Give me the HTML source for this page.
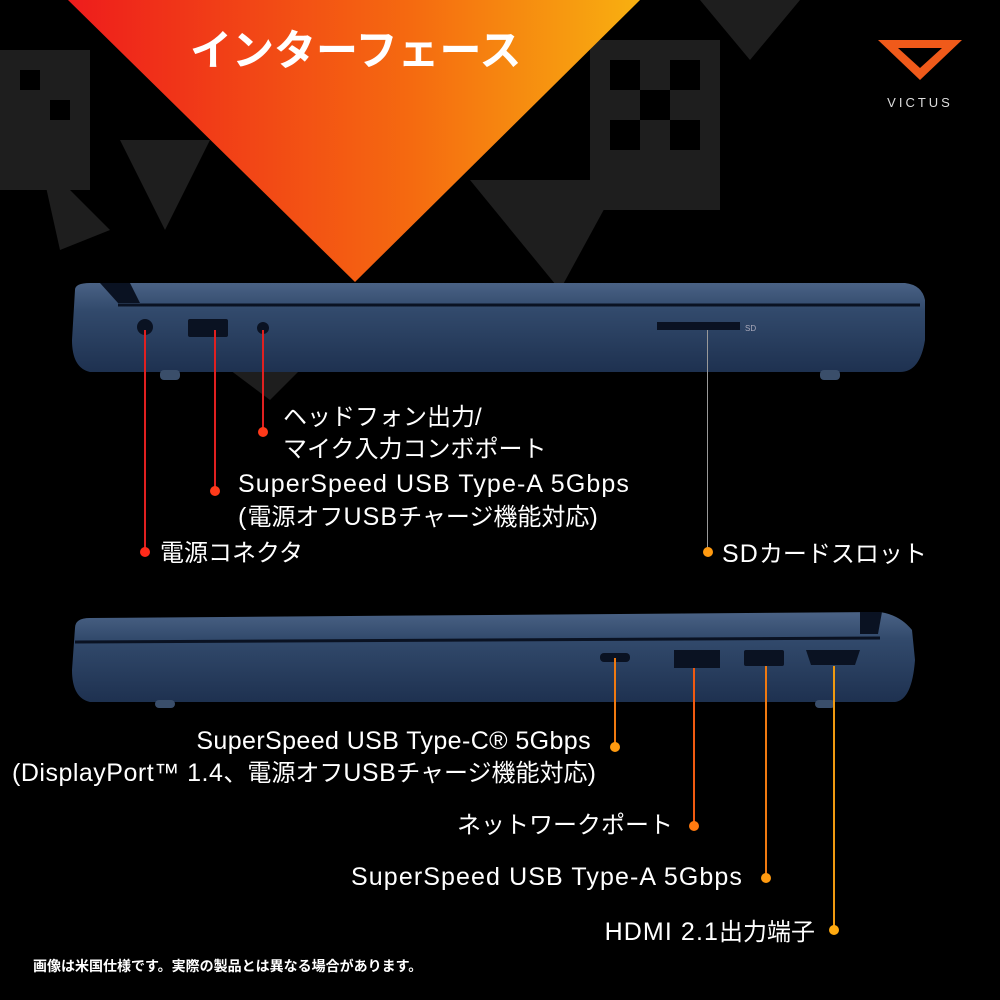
<!DOCTYPE html>
<html><head><meta charset="utf-8"><style>
body{margin:0;width:1000px;height:1000px;background:#000;position:relative;overflow:hidden;font-family:"Liberation Sans","Noto Sans CJK JP",sans-serif;color:#fff}
.t{position:absolute;white-space:nowrap;font-size:24px;line-height:32px}
.t b{font-weight:normal;font-size:25px;letter-spacing:1.1px}
.r{text-align:right}
.l{position:absolute;width:2px}
.d{position:absolute;width:10px;height:10px;border-radius:50%}
</style></head><body>
<svg width="1000" height="1000" style="position:absolute;left:0;top:0">
<defs>
<linearGradient id="g" x1="0" x2="1" y1="0" y2="0"><stop offset="0" stop-color="#ee1c1c"/><stop offset="0.6" stop-color="#f56a10"/><stop offset="1" stop-color="#f8b010"/></linearGradient>
<linearGradient id="b" x1="0" x2="0" y1="0" y2="1"><stop offset="0" stop-color="#4a6285"/><stop offset="0.3" stop-color="#324a6c"/><stop offset="1" stop-color="#1e3150"/></linearGradient>
</defs>
<g fill="#1e1e1e">
<rect x="0" y="50" width="90" height="140"/>
<polygon points="120,140 210,140 165,230"/>
<polygon points="40,160 110,230 60,250"/>
<polygon points="470,180 560,290 620,180"/>
<rect x="590" y="40" width="130" height="170"/>
<polygon points="700,0 800,0 750,60"/>
<polygon points="230,370 300,370 270,400"/>
</g>
<g fill="#000">
<rect x="610" y="60" width="30" height="30"/><rect x="670" y="60" width="30" height="30"/>
<rect x="640" y="90" width="30" height="30"/><rect x="610" y="120" width="30" height="30"/><rect x="670" y="120" width="30" height="30"/>
<rect x="20" y="70" width="20" height="20"/><rect x="50" y="100" width="20" height="20"/>
</g>
<polygon points="68,0 640,0 355,282" fill="url(#g)"/>
<polygon points="878,40 962,40 920,80" fill="#f05a1a"/>
<polygon points="898,48 942,48 920,68" fill="#000"/>
<text x="920" y="107" font-size="13" fill="#ddd" text-anchor="middle" letter-spacing="3" font-family="Liberation Sans">VICTUS</text>
<path d="M75,290 Q75,283 90,283 L905,283 Q922,285 925,300 L925,340 Q920,372 900,372 L90,372 Q72,368 72,340 Z" fill="url(#b)"/>
<line x1="118" y1="305" x2="920" y2="305" stroke="#0a1222" stroke-width="3"/>
<polygon points="100,283 130,283 140,303 118,303" fill="#0a1222"/>
<rect x="160" y="370" width="20" height="10" rx="4" fill="#3a4e6a"/><rect x="820" y="370" width="20" height="10" rx="4" fill="#3a4e6a"/>
<circle cx="145" cy="327" r="8" fill="#0a1222"/>
<rect x="188" y="319" width="40" height="18" rx="2" fill="#0a1222"/>
<circle cx="263" cy="328" r="6" fill="#0a1222"/>
<rect x="657" y="322" width="83" height="8" fill="#0a1222"/>
<text x="745" y="331" font-size="8" fill="#aab">SD</text>
<path d="M75,628 Q75,618 90,618 L880,612 Q900,615 912,630 L915,660 Q912,700 895,702 L90,702 Q72,698 72,670 Z" fill="url(#b)"/>
<line x1="75" y1="642" x2="880" y2="638" stroke="#0a1222" stroke-width="3"/>
<polygon points="860,612 882,612 878,634 860,634" fill="#0a1222"/>
<rect x="155" y="700" width="20" height="8" rx="4" fill="#3a4e6a"/><rect x="815" y="700" width="20" height="8" rx="4" fill="#3a4e6a"/>
<rect x="600" y="653" width="30" height="9" rx="4" fill="#0a1222"/>
<rect x="674" y="650" width="46" height="18" fill="#0a1222"/>
<rect x="744" y="650" width="40" height="16" rx="2" fill="#0a1222"/>
<polygon points="806,650 860,650 855,665 811,665" fill="#0a1222"/>
</svg>
<div class="t" style="left:190px;top:26px;font-size:42px;line-height:50px;font-weight:bold">インターフェース</div>

<div class="l" style="left:144px;top:330px;height:222px;background:#e02020"></div>
<div class="d" style="left:140px;top:547px;background:#ff2a1a"></div>
<div class="l" style="left:214px;top:330px;height:160px;background:#e02020"></div>
<div class="d" style="left:210px;top:486px;background:#ff3a1a"></div>
<div class="l" style="left:262px;top:330px;height:100px;background:#e02020"></div>
<div class="d" style="left:258px;top:427px;background:#ff3a1a"></div>
<div class="l" style="left:707px;top:330px;height:222px;width:1px;background:#999"></div>
<div class="d" style="left:703px;top:547px;background:#ff9a10"></div>

<div class="t" style="left:283px;top:402px">ヘッドフォン出力/<br>マイク入力コンボポート</div>
<div class="t" style="left:238px;top:468px"><b>SuperSpeed USB Type-A 5Gbps</b><br><b>(</b>電源オフ<b>USB</b>チャージ機能対応<b>)</b></div>
<div class="t" style="left:160px;top:538px">電源コネクタ</div>
<div class="t" style="left:722px;top:538px"><b>SD</b>カードスロット</div>

<div class="l" style="left:614px;top:658px;height:88px;background:#f07a10"></div>
<div class="d" style="left:610px;top:742px;background:#ff9a10"></div>
<div class="l" style="left:693px;top:668px;height:158px;background:#f05a10"></div>
<div class="d" style="left:689px;top:821px;background:#ff7a10"></div>
<div class="l" style="left:765px;top:666px;height:212px;background:#f07a10"></div>
<div class="d" style="left:761px;top:873px;background:#ff9a10"></div>
<div class="l" style="left:833px;top:666px;height:264px;background:#f09a10"></div>
<div class="d" style="left:829px;top:925px;background:#ffaa10"></div>

<div class="t r" style="right:409px;top:725px"><b style="letter-spacing:0.4px">SuperSpeed USB Type-C® 5Gbps</b></div>
<div class="t r" style="right:403px;top:757px"><b style="letter-spacing:0.5px">(DisplayPort™ 1.4</b>、電源オフ<b style="letter-spacing:0.5px">USB</b>チャージ機能対応<b>)</b></div>
<div class="t r" style="right:327px;top:810px">ネットワークポート</div>
<div class="t r" style="right:257px;top:861px"><b>SuperSpeed USB Type-A 5Gbps</b></div>
<div class="t r" style="right:185px;top:916px"><b>HDMI 2.1</b>出力端子</div>
<div class="t" style="left:33px;top:956px;font-size:14px;line-height:20px;font-weight:bold">画像は米国仕様です。実際の製品とは異なる場合があります。</div>
</body></html>
